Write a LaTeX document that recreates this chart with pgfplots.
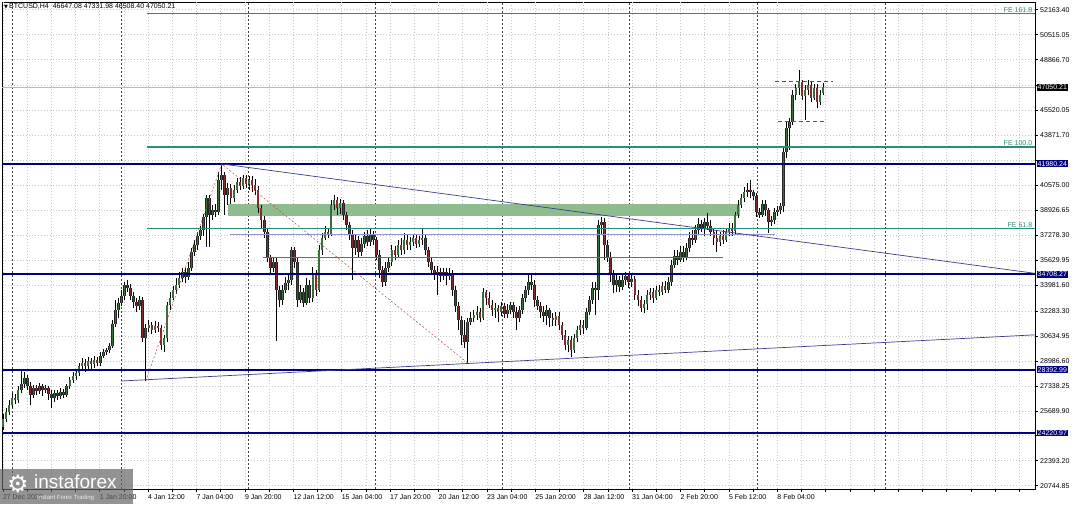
\documentclass[border=0pt]{standalone}
\usepackage{pgfplots}
\usepackage{pgfplotstable}
\pgfplotsset{compat=1.18}
\usepackage{fontspec}
\setmainfont{Liberation Sans}
\newfontfamily\dejavu{DejaVu Sans}

\definecolor{mtnavy}{RGB}{0,0,128}
\definecolor{feteal}{RGB}{45,140,120}
\definecolor{zone}{RGB}{143,188,143}
\definecolor{upc}{RGB}{60,110,60}
\definecolor{dnc}{RGB}{130,45,45}
\definecolor{lav}{RGB}{150,150,205}
\definecolor{midlav}{RGB}{100,100,170}
\definecolor{trend}{RGB}{60,60,140}
\definecolor{fibred}{RGB}{180,70,70}
\newcommand\lab{\fontsize{7}{8}\selectfont}

% H4 candles, i = bar index
\pgfplotstableread{
i o h l c
0 24618 25476 24420 25146
1 25146 25872 24948 25608
2 25608 26400 25410 26070
3 26070 26862 25872 26532
4 26532 26796 26136 26400
5 26400 27324 26202 27060
6 27060 28380 26862 27456
7 27456 28248 27192 27852
8 27852 28050 27060 27324
9 27324 27588 26070 26730
10 26730 27390 26532 27192
11 27192 27390 26730 26994
12 26994 27522 26796 27324
13 27324 27456 26664 27060
14 27060 27390 26862 27192
15 27192 27324 26400 26796
16 26796 27060 25872 26532
17 26532 27060 26268 26862
18 26862 27060 26400 26664
19 26664 27192 26466 26928
20 26928 27126 26532 26730
21 26730 27456 26598 27324
22 27324 27918 27126 27720
23 27720 28248 27522 27984
24 27984 28446 27720 28182
25 28182 28842 27984 28644
26 28644 29172 28380 28842
27 28842 29106 28248 28644
28 28644 29238 28380 28974
29 28974 29172 28446 28776
30 28776 29304 28512 29040
31 29040 29238 28644 28842
32 28842 29568 28644 29304
33 29304 29766 29172 29568
34 29568 29832 29370 29700
35 29700 30162 29502 29964
36 29964 31680 29832 31416
37 31416 33000 31218 32340
38 32340 33132 31812 32802
39 32802 33660 32604 33264
40 33264 34188 33000 33990
41 33990 34320 33528 33792
42 33792 34056 33000 33264
43 33264 33528 32472 32868
44 32868 33132 32208 32604
45 32604 33264 32340 33000
46 33000 33198 30228 30492
47 30492 31416 27654 31152
48 31152 31680 30888 31350
49 31350 31548 30756 31020
50 31020 31614 30822 31284
51 31284 31548 30888 31152
52 31152 31350 29700 30030
53 30030 30690 29568 30492
54 30492 32868 30228 32670
55 32670 33528 32340 33132
56 33132 33924 33000 33660
57 33660 34452 33396 33990
58 33990 34848 33792 34452
59 34452 35112 34188 34848
60 34848 35112 34122 34518
61 34518 35508 34320 35112
62 35112 36432 34914 36168
63 36168 36960 35904 36630
64 36630 37488 36300 37224
65 37224 37884 36960 37620
66 37620 38676 37224 38478
67 38478 39930 36498 39732
68 39732 39930 36498 38610
69 38610 39270 38280 38940
70 38940 39336 38478 38808
71 38808 41448 38610 40920
72 40920 41980 40260 41250
73 41250 41448 38610 39930
74 39930 40722 39270 40392
75 40392 40656 39336 39732
76 39732 40590 39468 40260
77 40260 41052 40062 40788
78 40788 41118 40260 40524
79 40524 41250 40326 41052
80 41052 41250 40392 40656
81 40656 41184 40260 40920
82 40920 41184 40128 40590
83 40590 40986 39930 40260
84 40260 40524 38742 39072
85 39072 39270 37752 38280
86 38280 38544 37092 37488
87 37488 37752 35508 35772
88 35772 35970 34650 35112
89 35112 35772 34848 35508
90 35508 35772 30294 33660
91 33660 33924 32538 33000
92 33000 33990 32670 33660
93 33660 34518 33462 34122
94 34122 34650 33660 34320
95 34320 36498 33990 36300
96 36300 36498 35112 35508
97 35508 35772 32538 33000
98 33000 33990 32802 33528
99 33528 33792 32538 32802
100 32802 34452 32670 33990
101 33990 34320 32802 33132
102 33132 35178 32868 34650
103 34650 34980 33264 33660
104 33660 36630 33528 36300
105 36300 37422 35970 37092
106 37092 37884 36960 37488
107 37488 37752 37092 37356
108 37356 39600 37224 39270
109 39270 39930 38940 39600
110 39600 39798 38610 39072
111 39072 39666 38676 39402
112 39402 39600 38280 38610
113 38610 38808 37620 37950
114 37950 38148 36960 37290
115 37290 37620 34320 36432
116 36432 37290 35970 36960
117 36960 37224 35838 36168
118 36168 37092 35904 36696
119 36696 37488 36432 37224
120 37224 37620 36564 36828
121 36828 37686 36564 37290
122 37290 37554 36630 36960
123 36960 37158 35640 35970
124 35970 36300 34452 34980
125 34980 35244 33858 34188
126 34188 35508 33924 35112
127 35112 35772 34848 35508
128 35508 36630 35244 36300
129 36300 36564 35640 35970
130 35970 36960 35772 36630
131 36630 37092 35970 36300
132 36300 37422 36036 36960
133 36960 37290 36300 36630
134 36630 37158 36300 36828
135 36828 37290 36564 37092
136 37092 37356 36432 36696
137 36696 37224 36498 36960
138 36960 37752 36630 37092
139 37092 37356 35970 36300
140 36300 36498 35178 35508
141 35508 35772 34650 34980
142 34980 35244 34320 34650
143 34650 35244 33330 34848
144 34848 35112 34188 34584
145 34584 35112 34320 34848
146 34848 35112 33990 34584
147 34584 35112 34320 34716
148 34716 34980 33264 33660
149 33660 33924 32208 32604
150 32604 32868 31020 31680
151 31680 31944 30030 30690
152 30690 31680 29832 30228
153 30228 31812 28842 31548
154 31548 32208 31350 31812
155 31812 32340 31548 32010
156 32010 32604 31680 32208
157 32208 32472 31548 31812
158 31812 33792 31680 33528
159 33528 33660 32670 33132
160 33132 33528 32472 32670
161 32670 33000 31944 32340
162 32340 32802 31812 32472
163 32472 32670 31548 32208
164 32208 32868 31944 32604
165 32604 32802 31812 32076
166 32076 32736 31812 32340
167 32340 32868 32076 32670
168 32670 32868 31812 32208
169 32208 32538 31020 31812
170 31812 32604 31548 32340
171 32340 33396 32076 33132
172 33132 33924 32868 33660
173 33660 34650 33330 34188
174 34188 34650 33660 33990
175 33990 34320 32538 33000
176 33000 33264 32340 32604
177 32604 32868 31812 32208
178 32208 32604 31548 31944
179 31944 32670 31350 32340
180 32340 32472 31218 31812
181 31812 32142 31284 31680
182 31680 32208 31284 31944
183 31944 32208 31020 31350
184 31350 31548 30360 30690
185 30690 31020 29700 30030
186 30030 30624 29568 30360
187 30360 30624 29238 29700
188 29700 30756 29502 30492
189 30492 31284 30228 31020
190 31020 31680 30690 31350
191 31350 31680 30756 31152
192 31152 32472 31020 32208
193 32208 33264 32010 33000
194 33000 34188 32736 33792
195 33792 34188 32010 33660
196 33660 38280 33000 37950
197 37950 38478 37290 38148
198 38148 38412 35640 36630
199 36630 36960 35508 35772
200 35772 36168 34188 34650
201 34650 34980 33462 33990
202 33990 34716 33528 34320
203 34320 34584 33528 33858
204 33858 34782 33660 34320
205 34320 34848 33990 34584
206 34584 34782 33792 34188
207 34188 34716 33858 34386
208 34386 34584 33000 33330
209 33330 33660 32604 33000
210 33000 33264 32208 32472
211 32472 33000 32142 32736
212 32736 33660 32340 33330
213 33330 33792 33000 33528
214 33528 33792 32802 33132
215 33132 33924 33000 33660
216 33660 33990 33264 33528
217 33528 34188 33330 33924
218 33924 34254 33462 33660
219 33660 34518 33462 34188
220 34188 35640 33924 35310
221 35310 36300 35112 35904
222 35904 36300 35310 35640
223 35640 36564 35508 36168
224 36168 36564 35508 35772
225 35772 36762 35640 36432
226 36432 37488 36168 37092
227 37092 37620 36630 36960
228 36960 37950 36762 37620
229 37620 38412 37356 38016
230 38016 38280 37488 37752
231 37752 38412 37224 38148
232 38148 38742 37620 37884
233 37884 38280 37224 37488
234 37488 37752 36630 37092
235 37092 37620 36168 36828
236 36828 37488 36564 37224
237 37224 37620 36696 36960
238 36960 37752 36828 37488
239 37488 38082 37224 37752
240 37752 38082 37224 37554
241 37554 38808 37356 38610
242 38610 39600 38412 39270
243 39270 39996 39072 39732
244 39732 40458 39468 40128
245 40128 40722 39798 40260
246 40260 40920 39732 40128
247 40128 40260 39600 39864
248 39864 40062 38478 38808
249 38808 39072 38412 38610
250 38610 39600 38478 39336
251 39336 39600 38544 38940
252 38940 39072 37422 38148
253 38148 38544 37884 38280
254 38280 39072 38016 38808
255 38808 39204 38544 38940
256 38940 39402 38676 39204
257 39204 43032 38808 42768
258 42768 44748 42372 44352
259 44352 45012 42900 44748
260 44748 46860 44550 46530
261 46530 47256 46200 46992
262 46992 48180 46530 47388
263 47388 47520 46200 46464
264 46464 47190 44880 46860
265 46860 47520 46530 47190
266 47190 47388 46068 46332
267 46332 47256 46200 46992
268 46992 47256 45672 46068
269 46068 46860 45870 46530
270 46647.08 47331.98 46508.40 47050.21
}\ohlc

\begin{document}
\begin{tikzpicture}
\path[use as bounding box, fill=white] (0,0) rectangle (1074pt,504pt);

\begin{axis}[
  at={(2pt,15pt)}, anchor=south west,
  scale only axis, width=1033pt, height=487pt,
  xmin=-0.33, xmax=339.75, ymin=20526, ymax=52668,
  clip mode=individual,
  axis line style={black, line width=0.6pt},
  tick style={black, line width=0.5pt},
  tick align=outside, major tick length=3pt,
  xtick pos=bottom, ytick pos=right, yticklabel pos=right,
  xmajorgrids, ymajorgrids,
  major grid style={gray!45, dash pattern=on 1pt off 2pt, line width=0.5pt},
  xtick={-0.06,7.907,...,339}, xticklabels={},
  extra x ticks={-0.06,31.81,47.74,63.67,79.61,95.54,111.48,127.41,143.34,159.28,175.21,191.15,207.08,223.01,238.95,254.88},
  extra x tick labels={27 Dec 2020,1 Jan 20:00,4 Jan 12:00,7 Jan 04:00,9 Jan 20:00,12 Jan 12:00,15 Jan 04:00,17 Jan 20:00,20 Jan 12:00,23 Jan 04:00,25 Jan 20:00,28 Jan 12:00,31 Jan 04:00,2 Feb 20:00,5 Feb 12:00,8 Feb 04:00},
  extra x tick style={xticklabel style={anchor=north west, inner sep=0pt, yshift=-2pt, font=\lab}},
  ytick={20744.85,22393.20,24041.55,25689.90,27338.25,28986.60,30634.95,32283.30,33981.60,35629.95,37278.30,38926.65,40575.00,42223.35,43871.70,45520.05,47193.40,48866.70,50515.05,52163.40},
  yticklabels={20744.85,22393.20,,25689.90,27338.25,28986.60,30634.95,32283.30,33981.60,35629.95,37278.30,38926.65,40575.00,,43871.70,45520.05,,48866.70,50515.05,52163.40},
  yticklabel style={anchor=west, inner sep=0pt, xshift=2pt, font=\lab},
]
% weekly separators
\pgfplotsinvokeforeach{2.96,38.85,80.66,122.47,164.28,206.09,248.23,290.37}{
  \addplot[black!75, dash pattern=on 2pt off 2pt, line width=0.6pt] coordinates {(#1,20526) (#1,52668)};
}
% supply zone
\addplot[fill=zone, draw=none] coordinates {(74.1,39330) (242.6,39330) (242.6,38560) (74.1,38560)} -- cycle;
% bid line
\addplot[gray!55, line width=0.5pt] coordinates {(-0.33,47050.21) (339.75,47050.21)};

% wicks
\addplot[draw=none, mark=none, error bars/.cd, y dir=plus, y explicit, error mark=none,
  error bar style={draw=black, line width=0.7pt}]
  table[x=i, y=l, y error expr={\thisrow{h}-\thisrow{l}}] {\ohlc};
% body outlines
\addplot[draw=none, mark=none, error bars/.cd, y dir=plus, y explicit, error mark=none,
  error bar style={draw=black!85, line width=2.6pt}]
  table[x=i, y expr={min(\thisrow{o},\thisrow{c})},
        y error expr={max(abs(\thisrow{c}-\thisrow{o}),50)}] {\ohlc};
% bodies up
\addplot[draw=none, mark=none, error bars/.cd, y dir=plus, y explicit, error mark=none,
  error bar style={draw=upc, line width=1.4pt}]
  table[x=i, y expr={\thisrow{c}>=\thisrow{o} ? \thisrow{o} : nan},
        y error expr={max(abs(\thisrow{c}-\thisrow{o}),40)}] {\ohlc};
% bodies down
\addplot[draw=none, mark=none, error bars/.cd, y dir=plus, y explicit, error mark=none,
  error bar style={draw=dnc, line width=1.4pt}]
  table[x=i, y expr={\thisrow{c}<\thisrow{o} ? \thisrow{c} : nan},
        y error expr={max(abs(\thisrow{c}-\thisrow{o}),40)}] {\ohlc};

% horizontal levels
\addplot[lav, line width=0.8pt] coordinates {(74.7,37360) (254.2,37360)};
\addplot[midlav, line width=0.8pt] coordinates {(85.6,35840) (237.0,35840)};
\addplot[feteal, line width=1.1pt] coordinates {(47.4,51900) (339.75,51900)};
\addplot[feteal, line width=1.1pt] coordinates {(47.4,43100) (339.75,43100)};
\addplot[feteal, line width=1.1pt] coordinates {(47.4,37690) (339.75,37690)};
\addplot[mtnavy, line width=1.6pt] coordinates {(-0.33,41980.24) (339.75,41980.24)};
\addplot[mtnavy, line width=1.6pt] coordinates {(-0.33,34708.27) (339.75,34708.27)};
\addplot[mtnavy, line width=1.6pt] coordinates {(-0.33,28392.99) (339.75,28392.99)};
\addplot[mtnavy, line width=1.6pt] coordinates {(-0.33,24220.97) (339.75,24220.97)};
% trend lines
\addplot[trend, line width=0.7pt] coordinates {(72.1,41980) (339.75,34760)};
\addplot[trend, line width=0.7pt] coordinates {(38.85,27654) (339.75,30700)};
% expansion legs
\addplot[fibred, dash pattern=on 2pt off 2pt, line width=0.5pt] coordinates {(47,27654) (72,41980) (153,28842)};
% range box
\addplot[fibred!85!black, dash pattern=on 4pt off 3pt, line width=0.8pt] coordinates {(254.2,47450) (273.3,47450)};
\addplot[fibred!85!black, dash pattern=on 4pt off 3pt, line width=0.8pt] coordinates {(255.1,44770) (270.3,44770)};

% level labels
\node[anchor=south east, text=feteal, font=\lab, inner sep=1pt] at (axis cs:339.2,51900) {FE 161.8};
\node[anchor=south east, text=feteal, font=\lab, inner sep=1pt] at (axis cs:339.2,43100) {FE 100.0};
\node[anchor=south east, text=feteal, font=\lab, inner sep=1pt] at (axis cs:339.2,37690) {FE 61.8};
\node[anchor=west, fill=black, text=white, font=\lab, inner sep=1pt, xshift=1.5pt] at (axis cs:339.75,47050.21) {47050.21};
\node[anchor=west, fill=mtnavy, text=white, font=\lab, inner sep=1pt, xshift=1.5pt] at (axis cs:339.75,41980.24) {41980.24};
\node[anchor=west, fill=mtnavy, text=white, font=\lab, inner sep=1pt, xshift=1.5pt] at (axis cs:339.75,34708.27) {34708.27};
\node[anchor=west, fill=mtnavy, text=white, font=\lab, inner sep=1pt, xshift=1.5pt] at (axis cs:339.75,28392.99) {28392.99};
\node[anchor=west, fill=mtnavy, text=white, font=\lab, inner sep=1pt, xshift=1.5pt] at (axis cs:339.75,24220.97) {24220.97};
\end{axis}

% header
\node[anchor=west, inner sep=0pt, font=\lab] at (4pt,497pt) {{\dejavu\fontsize{5}{6}\selectfont ▼}\,BTCUSD,H4\ \ 46647.08 47331.98 46508.40 47050.21};

% watermark
\fill[gray!80!black, opacity=0.7] (0,0) rectangle (133pt,35pt);
\node[text=white, inner sep=0pt, font={\dejavu\fontsize{24}{24}\selectfont}] at (18pt,20pt) {⚙};
\node[anchor=west, text=white, inner sep=0pt, font={\fontsize{19}{19}\selectfont}] at (34pt,22pt) {instaforex};
\node[anchor=west, text=white!85!gray, inner sep=0pt, font={\fontsize{6}{6}\selectfont}] at (37pt,6pt) {Instant Forex Trading};
\end{tikzpicture}
\end{document}
